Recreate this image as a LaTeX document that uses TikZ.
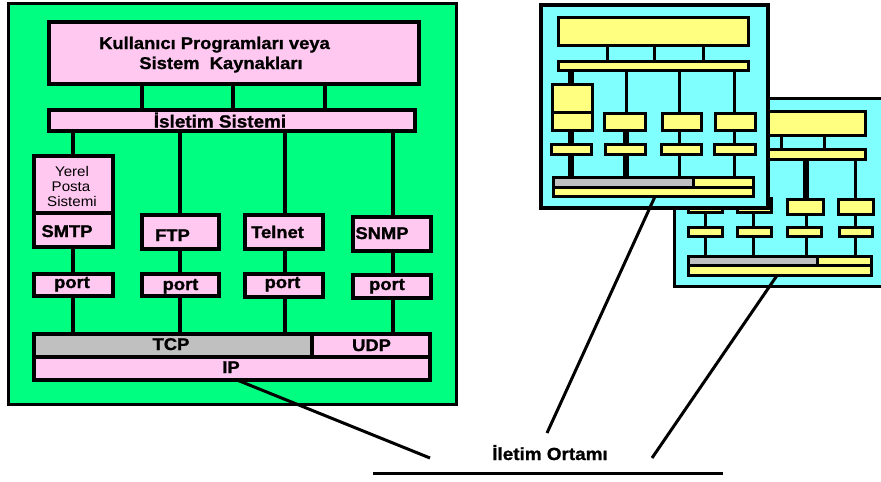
\documentclass[tikz,border=0pt]{standalone}
\usepackage{fontspec}
\setmainfont{Liberation Sans}
\newfontfamily\lbf{Liberation Sans}[FakeStretch=1.08, BoldFeatures={FakeBold=1.2}]
\definecolor{gpan}{RGB}{0,255,128}
\definecolor{pnk}{RGB}{255,200,240}
\definecolor{gry}{RGB}{192,192,192}
\definecolor{cyn}{RGB}{128,255,255}
\definecolor{ylw}{RGB}{255,255,128}
\newcommand\rbox[6]{\node[#1,anchor=north west,minimum width={(#5)-(#3)},minimum height={(#6)-(#4)}] (#2) at (#3,#4) {};}
\begin{document}
\begin{tikzpicture}[x=1pt,y=-1pt,
  base/.style={draw=black, inner sep=0pt, outer sep=0pt, rectangle},
  gpanel/.style={base, fill=gpan, line width=3pt},
  cpanel/.style={base, fill=cyn, line width=4pt},
  cpanelb/.style={base, fill=cyn, line width=3pt},
  pbox/.style={base, fill=pnk, line width=4pt},
  gbox/.style={base, fill=gry, line width=4pt},
  ybox/.style={base, fill=ylw, line width=3pt},
  sbox/.style={base, fill=gry, line width=3pt},
  conn/.style={line width=3.5pt},
  thinc/.style={line width=3pt},
  thickc/.style={line width=5.5pt},
  wire/.style={line width=3pt},
  lbl/.style={inner sep=0pt, anchor=base, font=\lbf\bfseries\fontsize{17}{19}\selectfont},
  biglbl/.style={inner sep=0pt, anchor=base, font=\lbf\bfseries\fontsize{17.5}{19}\selectfont},
  small/.style={inner sep=0pt, anchor=base, font=\lbf\fontsize{14}{15}\selectfont},
]
\useasboundingbox (0,0) rectangle (881,482);
\fill[white] (0,0) rectangle (881,482);

% ---------------- left green panel ----------------
\rbox{gpanel}{gp}{8.5}{3.5}{456.5}{404.5}
\rbox{pbox}{kul}{49}{22}{419}{84}
\rbox{pbox}{isl}{49}{109.5}{415}{130.5}
\rbox{pbox}{yerel}{34}{156}{113}{213}
\rbox{pbox}{smtp}{34}{213}{113}{247}
\rbox{pbox}{ftp}{142}{215}{219}{249}
\rbox{pbox}{telnet}{245}{215}{323}{249}
\rbox{pbox}{snmp}{353}{217}{431}{251}
\rbox{pbox}{p1}{34}{274}{113}{296}
\rbox{pbox}{p2}{142}{274}{219}{296}
\rbox{pbox}{p3}{245}{274}{323}{297}
\rbox{pbox}{p4}{353}{275}{431}{298}
\rbox{gbox}{tcp}{34}{334}{312}{357}
\rbox{pbox}{udp}{312}{334}{430}{357}
\rbox{pbox}{ip}{34}{357}{430}{380}

\foreach \x in {142,233,325} \draw[conn] (kul.south -| \x,0) -- (isl.north -| \x,0);
\draw[conn] (isl.south -| 73,0) -- (yerel.north -| 73,0);
\draw[conn] (isl.south -| 180,0) -- (ftp.north -| 180,0);
\draw[conn] (isl.south -| 285,0) -- (telnet.north -| 285,0);
\draw[conn] (isl.south -| 393,0) -- (snmp.north -| 393,0);
\draw[conn] (smtp.south -| 73,0) -- (p1.north -| 73,0);
\draw[conn] (ftp.south -| 180,0) -- (p2.north -| 180,0);
\draw[conn] (telnet.south -| 285,0) -- (p3.north -| 285,0);
\draw[conn] (snmp.south -| 393,0) -- (p4.north -| 393,0);
\draw[conn] (p1.south -| 73,0) -- (tcp.north -| 73,0);
\draw[conn] (p2.south -| 180,0) -- (tcp.north -| 180,0);
\draw[conn] (p3.south -| 285,0) -- (tcp.north -| 285,0);
\draw[conn] (p4.south -| 393,0) -- (udp.north -| 393,0);

\node[lbl] (kt1) at (214.5,49) {Kullanıcı Programları veya};
\node[lbl] (kt2) at (221,69) {Sistem\ \ Kaynakları};
\node[biglbl] (it) at (220,127.5) {İsletim Sistemi};
\node[small] (yt1) at (72,176) {Yerel};
\node[small] (yt2) at (71,191) {Posta};
\node[small] (yt3) at (72,206) {Sistemi};
\node[lbl] (st) at (67,237) {SMTP};
\node[lbl] (ft) at (172.5,241) {FTP};
\node[lbl] (tt) at (277.5,238) {Telnet};
\node[lbl] (nt) at (382,239) {SNMP};
\node[lbl] (pt1) at (72,288) {port};
\node[lbl] (pt2) at (180.5,290) {port};
\node[lbl] (pt3) at (282.5,288) {port};
\node[lbl] (pt4) at (387,290) {port};
\node[lbl] (tct) at (171,350) {TCP};
\node[lbl] (udt) at (371.5,351) {UDP};
\node[lbl] (ipt) at (231,373) {IP};

% ---------------- right panel (back) ----------------
\rbox{cpanelb}{pan2}{674.5}{98.5}{886}{286.5}
\rbox{ybox}{b2top}{700}{111.5}{865.5}{135.5}
\rbox{ybox}{b2os}{700}{149.5}{865.5}{159.5}
\rbox{ybox}{b2a1}{688.5}{198}{722.5}{212.5}
\rbox{ybox}{b2a2}{737.5}{198}{771.5}{212.5}
\rbox{ybox}{b2a3}{787.5}{199.5}{823.5}{214.5}
\rbox{ybox}{b2a4}{838.5}{199.5}{873.5}{214.5}
\rbox{ybox}{b2p1}{688.5}{227.5}{722.5}{236.5}
\rbox{ybox}{b2p2}{737.5}{227.5}{771.5}{236.5}
\rbox{ybox}{b2p3}{787.5}{227.5}{821.5}{236.5}
\rbox{ybox}{b2p4}{839.5}{227.5}{872.5}{236.5}
\rbox{sbox}{b2tcp}{688.5}{256.5}{817}{265}
\rbox{ybox}{b2udp}{817}{256.5}{871.5}{265}
\rbox{ybox}{b2ip}{688.5}{265}{871.5}{275.5}
\foreach \x in {738,781,824} \draw[thinc] (b2top.south -| \x,0) -- (b2os.north -| \x,0);
\draw[thinc] (b2os.south -| 705,0) -- (b2a1.north -| 705,0);
\draw[thinc] (b2os.south -| 753,0) -- (b2a2.north -| 753,0);
\draw[thickc] (b2os.south -| 806,0) -- (b2a3.north -| 806,0);
\draw[thinc] (b2os.south -| 855,0) -- (b2a4.north -| 855,0);
\draw[thinc] (b2a1.south -| 705,0) -- (b2p1.north -| 705,0);
\draw[thinc] (b2a2.south -| 753,0) -- (b2p2.north -| 753,0);
\draw[thinc] (b2a3.south -| 806,0) -- (b2p3.north -| 806,0);
\draw[thinc] (b2a4.south -| 855,0) -- (b2p4.north -| 855,0);
\draw[thinc] (b2p1.south -| 705,0) -- (b2tcp.north -| 705,0);
\draw[thinc] (b2p2.south -| 753,0) -- (b2tcp.north -| 753,0);
\draw[thinc] (b2p3.south -| 806,0) -- (b2tcp.north -| 806,0);
\draw[thinc] (b2p4.south -| 855,0) -- (b2udp.north -| 855,0);

% ---------------- right panel (front) ----------------
\rbox{cpanel}{pan1}{540.5}{5}{767.5}{208}
\rbox{ybox}{b1top}{558.5}{17.5}{748.5}{45.5}
\rbox{ybox}{b1os}{558.5}{61.5}{748.5}{70.5}
\rbox{ybox}{b1y}{552.5}{84.5}{592.5}{112}
\rbox{ybox}{b1a1}{552.5}{112}{592.5}{130.5}
\rbox{ybox}{b1a2}{604.5}{113.5}{645.5}{130.5}
\rbox{ybox}{b1a3}{662.5}{113.5}{701.5}{130.5}
\rbox{ybox}{b1a4}{715.5}{113.5}{755.5}{130.5}
\rbox{ybox}{b1p1}{551.5}{144.5}{591.5}{154.5}
\rbox{ybox}{b1p2}{605.5}{144.5}{645.5}{154.5}
\rbox{ybox}{b1p3}{661.5}{144.5}{701.5}{154.5}
\rbox{ybox}{b1p4}{714.5}{144.5}{755.5}{154.5}
\rbox{sbox}{b1tcp}{553.5}{177.5}{693}{187}
\rbox{ybox}{b1udp}{693}{177.5}{753}{187}
\rbox{ybox}{b1ip}{553.5}{187}{753}{196.5}
\foreach \x in {607,654,703} \draw[thinc] (b1top.south -| \x,0) -- (b1os.north -| \x,0);
\draw[thickc] (b1os.south -| 571,0) -- (b1y.north -| 571,0);
\draw[thinc] (b1os.south -| 626,0) -- (b1a2.north -| 626,0);
\draw[thinc] (b1os.south -| 679,0) -- (b1a3.north -| 679,0);
\draw[thinc] (b1os.south -| 734,0) -- (b1a4.north -| 734,0);
\draw[thickc] (b1a1.south -| 571,0) -- (b1p1.north -| 571,0);
\draw[thickc] (b1a2.south -| 626,0) -- (b1p2.north -| 626,0);
\draw[thinc] (b1a3.south -| 679,0) -- (b1p3.north -| 679,0);
\draw[thinc] (b1a4.south -| 734,0) -- (b1p4.north -| 734,0);
\draw[thickc] (b1p1.south -| 571,0) -- (b1tcp.north -| 571,0);
\draw[thickc] (b1p2.south -| 626,0) -- (b1tcp.north -| 626,0);
\draw[thinc] (b1p3.south -| 679,0) -- (b1tcp.north -| 679,0);
\draw[thinc] (b1p4.south -| 734,0) -- (b1udp.north -| 734,0);

% ---------------- medium ----------------
\coordinate (w1) at (430,458);
\coordinate (w2) at (547,433);
\coordinate (w3) at (652,458);
\coordinate (g1) at (373,473);
\coordinate (g2) at (723,473);
\draw[wire] (ip.south -| 237,0) -- (w1);
\draw[wire] (b1ip.south -| 655,0) -- (w2);
\draw[wire] (b2ip.south -| 777,0) -- (w3);
\draw[wire] (g1) -- (g2);
\node[lbl, font=\lbf\bfseries\fontsize{17.5}{19}\selectfont] (ort) at (550,460) {İletim Ortamı};
\end{tikzpicture}
\end{document}
